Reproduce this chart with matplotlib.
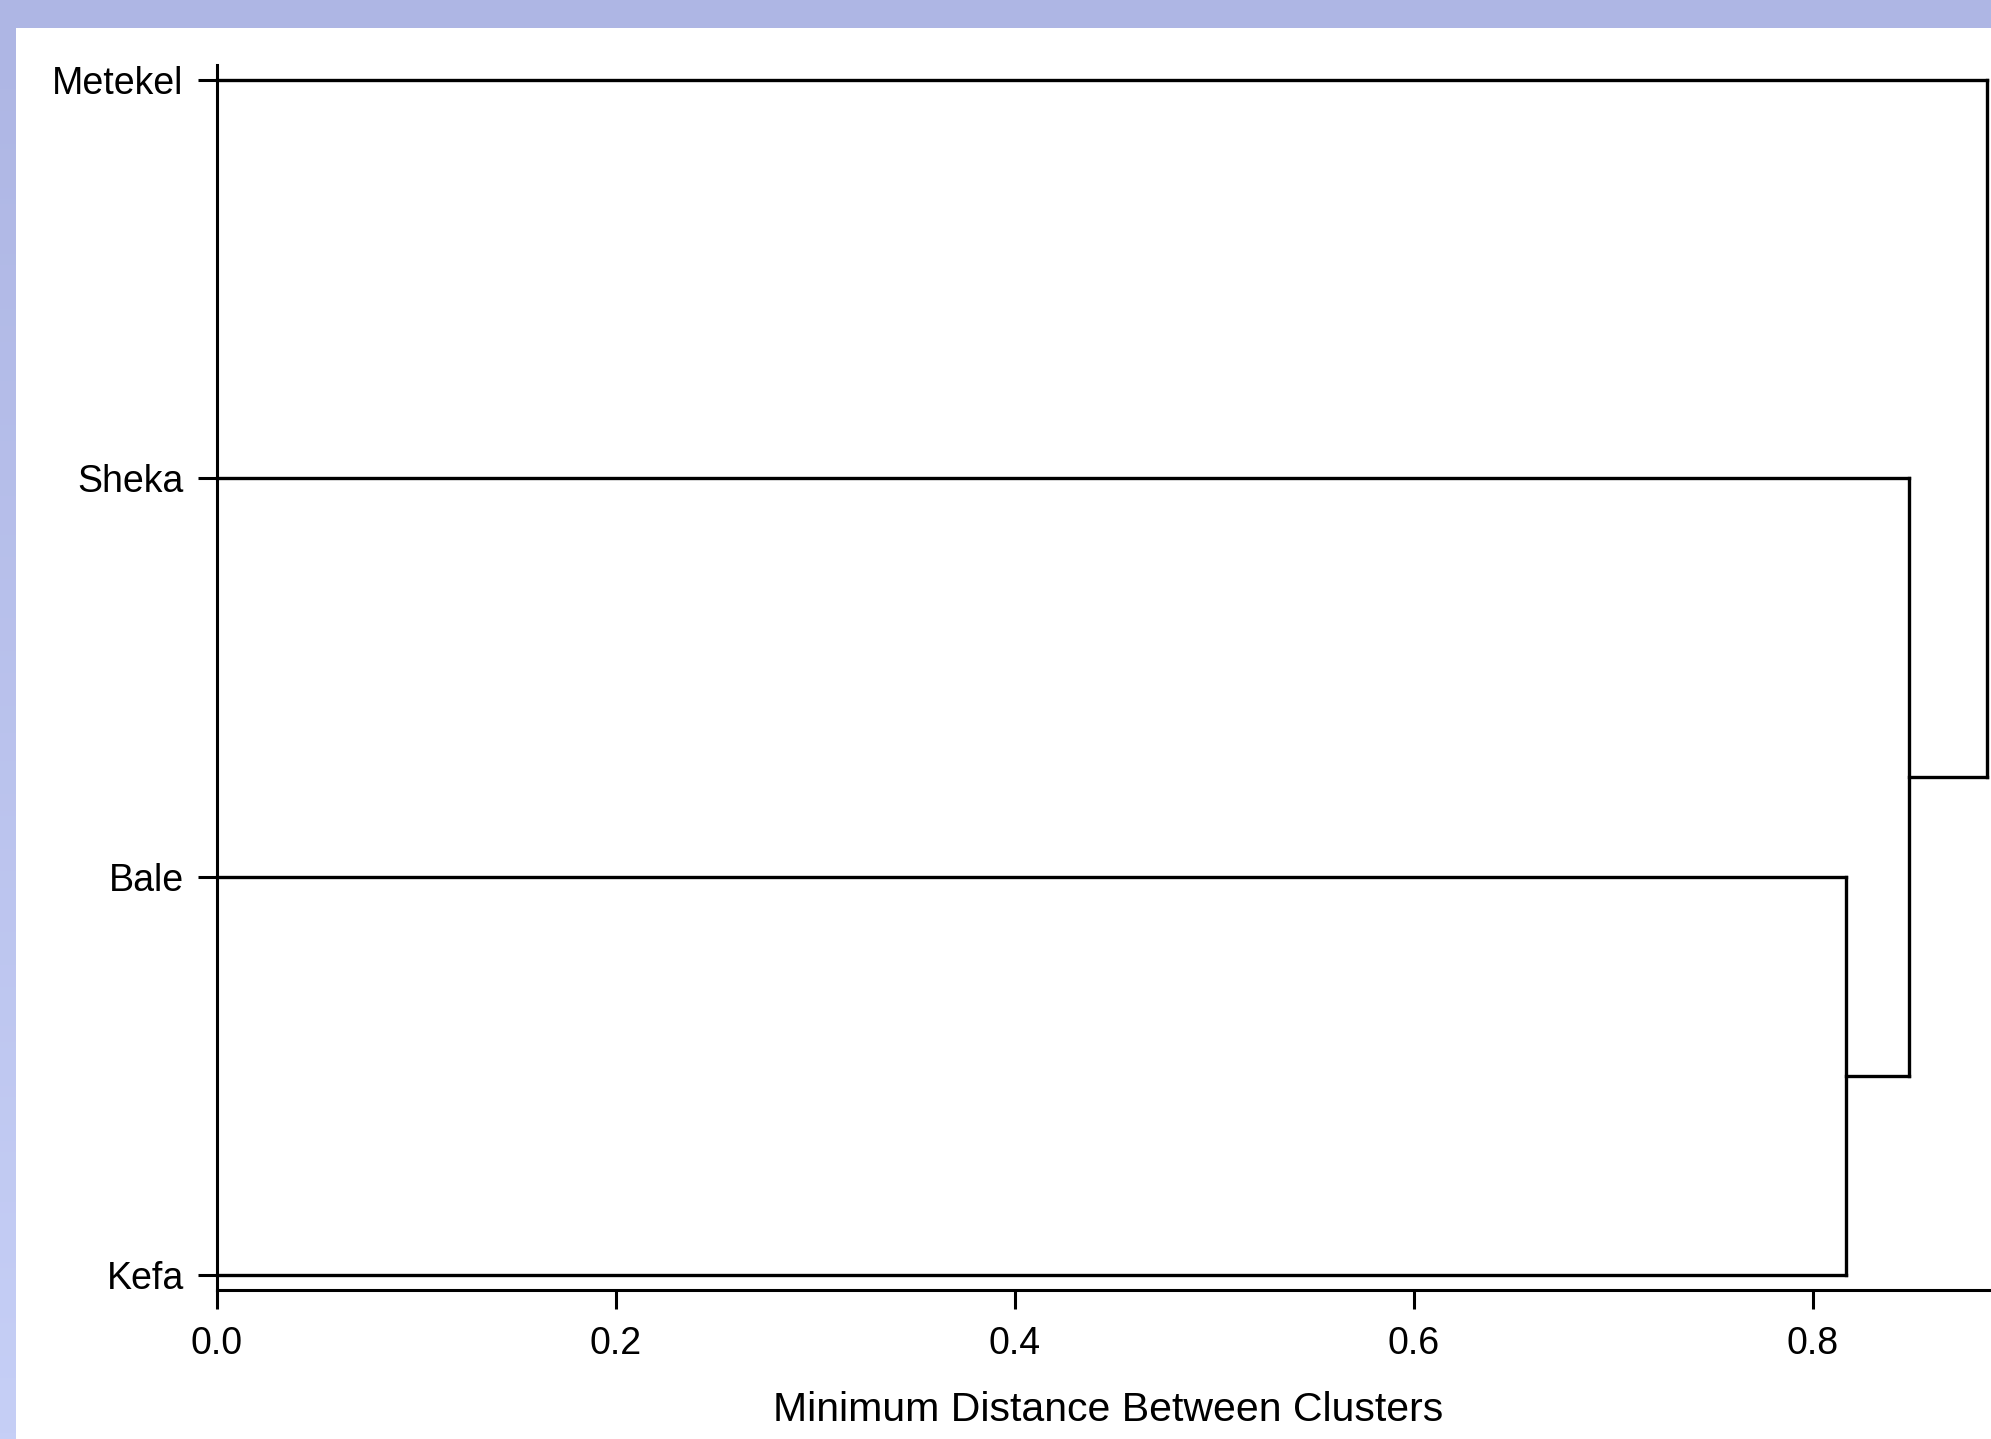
import matplotlib.pyplot as plt
import numpy as np
from matplotlib.colors import LinearSegmentedColormap

# leaves from bottom to top
leaves = ['Kefa', 'Bale', 'Sheka', 'Metekel']
# merges: (left member, right member, distance); members are leaf names or merge index
merges = [('Bale', 'Kefa', 0.8165),
          ('Sheka', 0, 0.848),
          ('Metekel', 1, 0.887)]
xticks = [0.0, 0.2, 0.4, 0.6, 0.8]
xlabel = 'Minimum Distance Between Clusters'

plt.rcParams['font.family'] = ['Liberation Sans', 'DejaVu Sans']

W, H = 1991, 1439
fig = plt.figure(figsize=(W / 100, H / 100), dpi=100)
fig.patch.set_facecolor('white')

# blue frame: top band and gradient on the left
top = fig.add_axes([0, 1 - 28 / H, 1, 28 / H])
top.set_facecolor('#aeb6e4')
top.set_xticks([]); top.set_yticks([])
for s in top.spines.values():
    s.set_visible(False)
left = fig.add_axes([0, 0, 16 / W, 1 - 28 / H])
grad = np.linspace(0, 1, 256).reshape(-1, 1)
cm = LinearSegmentedColormap.from_list('b', ['#aeb6e4', '#c6cff6'])
left.imshow(grad, aspect='auto', cmap=cm)
left.set_axis_off()

ax = fig.add_axes([217 / W, 1 - 1290 / H, 1 - 217 / W, (1290 - 65) / H])

ypos = {name: i for i, name in enumerate(leaves)}
xpos = {name: 0.0 for name in leaves}
lw = 2.4
for i, (a, b, d) in enumerate(merges):
    ka = a if isinstance(a, str) else ('m', a)
    kb = b if isinstance(b, str) else ('m', b)
    for k in (ka, kb):
        ax.plot([xpos[k], d], [ypos[k], ypos[k]], color='black', lw=lw,
                solid_capstyle='projecting', clip_on=False)
    ax.plot([d, d], [ypos[ka], ypos[kb]], color='black', lw=lw,
            solid_capstyle='projecting', clip_on=False)
    ypos[('m', i)] = (ypos[ka] + ypos[kb]) / 2
    xpos[('m', i)] = d

ax.set_xlim(0, (W - 217) / 1995)
ax.set_ylim(-15 / 398.3, 3 + 15 / 398.3)
ax.set_yticks(range(len(leaves)))
ax.set_yticklabels(leaves)
ax.set_xticks(xticks)
ax.set_xticklabels([f'{t:.1f}' for t in xticks])
ax.spines['top'].set_visible(False)
ax.spines['right'].set_visible(False)
for s in ('left', 'bottom'):
    ax.spines[s].set_linewidth(2.2)
ax.tick_params(axis='both', direction='out', length=14, width=2.2, labelsize=27)
ax.tick_params(axis='x', pad=12)
ax.tick_params(axis='y', pad=10)
ax.set_xlabel(xlabel, fontsize=29.5)
ax.xaxis.set_label_coords((1108 - 217) / (W - 217), (1290 - 1410) / (1290 - 65))
ax.xaxis.label.set_va('center')

fig.savefig('out.png', dpi=100)
